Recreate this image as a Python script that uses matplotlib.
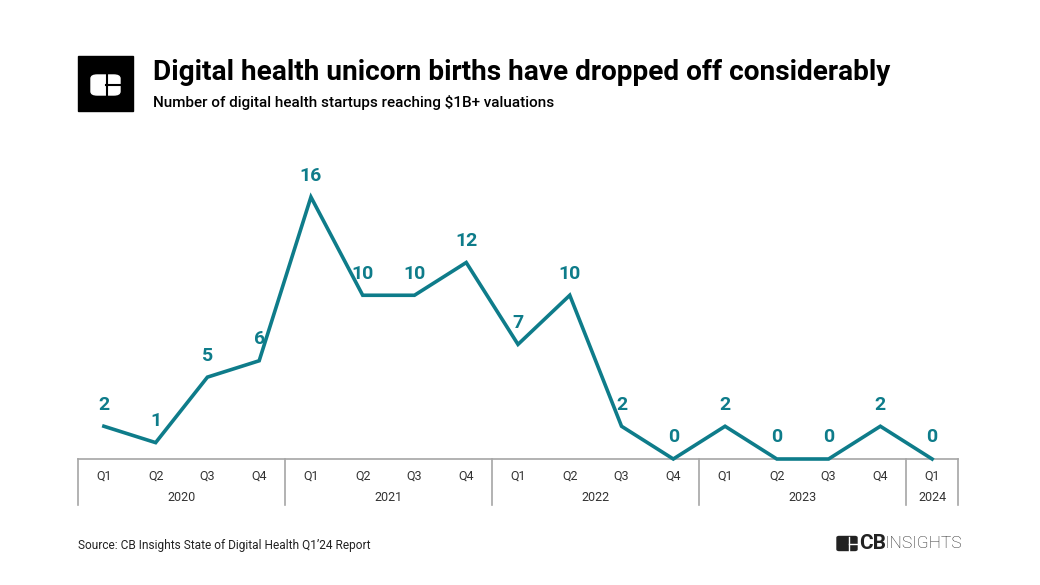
import matplotlib
matplotlib.use("Agg")
import matplotlib.pyplot as plt
from matplotlib.patches import Rectangle, FancyBboxPatch

plt.rcParams['font.family'] = ['Roboto', 'DejaVu Sans']

# data
quarters = ["Q1", "Q2", "Q3", "Q4", "Q1", "Q2", "Q3", "Q4", "Q1", "Q2", "Q3", "Q4",
            "Q1", "Q2", "Q3", "Q4", "Q1"]
years = ["2020", "2021", "2022", "2023", "2024"]
year_counts = [4, 4, 4, 4, 1]
unicorns = [2, 1, 5, 6, 16, 10, 10, 12, 7, 10, 2, 0, 2, 0, 0, 2, 0]

teal = "#0E7C8A"
grid_gray = "#A6A6A6"

fig = plt.figure(figsize=(10.4, 5.85), dpi=100)
ax = fig.add_axes([78 / 1040, 1 - 459 / 585, 880 / 1040, 302.9 / 585])

x = list(range(len(unicorns)))
ax.plot(x, unicorns, color=teal, lw=2.6, solid_joinstyle='miter', clip_on=False, zorder=3)
for xi, v in zip(x, unicorns):
    ax.annotate(str(v), (xi, v), xytext=(0, 9), textcoords='offset points',
                ha='center', va='bottom', fontsize=14, fontweight='bold', color=teal)

ax.set_xlim(-0.5, len(unicorns) - 0.5)
ax.set_ylim(0, 18.5)
for s in ["top", "right", "left"]:
    ax.spines[s].set_visible(False)
ax.spines["bottom"].set_color(grid_gray)
ax.spines["bottom"].set_linewidth(1.2)
ax.set_yticks([])
ax.set_xticks([])

# two-level category axis
tr = ax.get_xaxis_transform()
for xi, q in zip(x, quarters):
    ax.text(xi, -0.056, q, transform=tr, ha='center', va='center', fontsize=9, color="#333333")
start = -0.5
ax.plot([start, start], [0, -0.152], transform=tr, color=grid_gray, lw=1.2, clip_on=False)
for yr, n in zip(years, year_counts):
    end = start + n
    ax.text((start + end) / 2, -0.126, yr, transform=tr, ha='center', va='center',
            fontsize=9, color="#333333")
    ax.plot([end, end], [0, -0.152], transform=tr, color=grid_gray, lw=1.2, clip_on=False)
    start = end

# header logo
fig.patches.append(Rectangle((78 / 1040, 1 - 111 / 585), 55 / 1040, 55 / 585,
                             transform=fig.transFigure, color="black"))
fig.patches.append(FancyBboxPatch((91 / 1040, 1 - 95 / 585), 29 / 1040, 20 / 585,
                                  boxstyle="round,pad=0,rounding_size=0.006",
                                  transform=fig.transFigure, color="white"))
fig.add_artist(plt.Line2D([107 / 1040, 107 / 1040], [1 - 96 / 585, 1 - 74 / 585],
                          transform=fig.transFigure, color="black", lw=1.5))
fig.add_artist(plt.Line2D([106 / 1040, 121 / 1040], [1 - 85 / 585, 1 - 85 / 585],
                          transform=fig.transFigure, color="black", lw=1.5))

fig.text(153 / 1040, 1 - 72 / 585, "Digital health unicorn births have dropped off considerably",
         fontsize=20.2, fontweight='bold', va='center', ha='left', color="black")
fig.text(153 / 1040, 1 - 103 / 585, "Number of digital health startups reaching $1B+ valuations",
         fontsize=11, fontweight='medium', va='center', ha='left', color="black")

fig.text(78 / 1040, 1 - 545 / 585, "Source: CB Insights State of Digital Health Q1\u201924 Report",
         fontsize=8.6, va='center', ha='left', color="#222222")

# footer logo
fig.patches.append(FancyBboxPatch((837 / 1040, 1 - 550.5 / 585), 20 / 1040, 14 / 585,
                                  boxstyle="round,pad=0,rounding_size=0.002",
                                  transform=fig.transFigure, color="#222222"))
fig.add_artist(plt.Line2D([849 / 1040, 849 / 1040], [1 - 550.5 / 585, 1 - 536.5 / 585],
                          transform=fig.transFigure, color="white", lw=1))
fig.add_artist(plt.Line2D([849 / 1040, 857 / 1040], [1 - 543.5 / 585, 1 - 543.5 / 585],
                          transform=fig.transFigure, color="white", lw=1))
fig.text(859 / 1040, 1 - 543.5 / 585, "CB", fontsize=15, fontweight='bold',
         va='center', ha='left', color="#222222")
fig.text(962 / 1040, 1 - 543.5 / 585, "INSIGHTS", fontsize=12.5, fontweight='light',
         va='center', ha='right', color="#222222")

fig.savefig("out.png", dpi=100, facecolor="white")
